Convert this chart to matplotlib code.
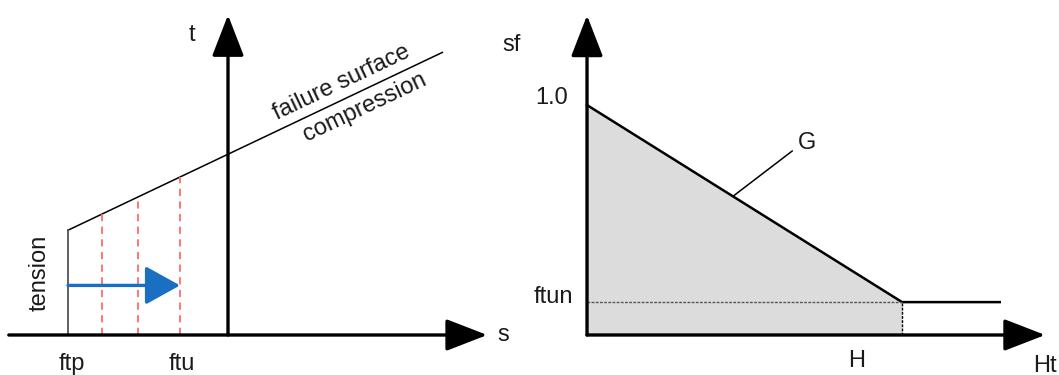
import matplotlib.pyplot as plt
import numpy as np

plt.rcParams['font.family'] = ['Liberation Sans', 'DejaVu Sans']

# left diagram: stress space (s, t)
s_ftp = -1.0                     # tension cutoff
s_ftu = -0.30                    # reduced tension cutoff
s_dashed = [-0.79, -0.56, -0.30] # successive cutoff positions
cohesion = 1.13
slope = 0.475
s_fail_end = 1.34
t_arrow = 0.31
s_axis = [-1.37, 1.62]
t_axis_top = 2.0

# right diagram: softening of tensile strength
sf_start = 1.0
H = 1.0
ftun = 0.143
ht_end = 1.31
ht_axis = 1.454
sf_axis_top = 1.39

W, Hpx = 1059, 375
fig = plt.figure(figsize=(W / 100, Hpx / 100), dpi=100)

axL = fig.add_axes([0, 0, 520 / W, 1])
axL.set_xlim(-1.425, 1.825)
axL.set_ylim(-0.25, 2.094)
axR = fig.add_axes([520 / W, 0, 539 / W, 1])
axR.set_xlim(-0.2127, 1.498)
axR.set_ylim(-0.174, 1.457)
for ax in (axL, axR):
    ax.axis('off')

txt = dict(fontsize=17, color='#1a1a1a')
axis_head = dict(arrowstyle='-|>,head_length=1.6,head_width=0.62', mutation_scale=16,
                 lw=2.4, color='black', shrinkA=0, shrinkB=0)


def tau(s):
    return cohesion + slope * np.asarray(s)


# ---- left panel ----
# failure surface and tension cutoff
s_line = np.array([s_ftp, s_fail_end])
axL.plot(s_line, tau(s_line), color='black', lw=1.1)
axL.plot([s_ftp, s_ftp], [0, tau(s_ftp)], color='#555555', lw=1.3)

for s in s_dashed:
    axL.plot([s, s], [0, tau(s)], color='#ff6b6b', lw=1.3, ls=(0, (4, 3)))

axL.annotate('', xy=(s_ftu, t_arrow), xytext=(s_ftp, t_arrow),
             arrowprops=dict(arrowstyle='-|>,head_length=1.8,head_width=1.0',
                             mutation_scale=12, lw=2.4, color='#1a6fc2',
                             shrinkA=0, shrinkB=0))

axL.annotate('', xy=(s_axis[1], 0), xytext=(s_axis[0], 0), arrowprops=axis_head)
axL.annotate('', xy=(0, t_axis_top), xytext=(0, 0), arrowprops=axis_head)

axL.text(-0.225, 1.875, 't', ha='center', va='center', **txt)
axL.text(1.72, 0.0, 's', ha='center', va='center', **txt)
axL.text(-0.975, -0.18, 'ftp', ha='center', va='center', **txt)
axL.text(s_ftu + 0.01, -0.18, 'ftu', ha='center', va='center', **txt)
axL.text(-1.175, 0.39, 'tension', ha='center', va='center', rotation=90, **txt)
ang = np.degrees(np.arctan(slope))
axL.text(0.71, 1.575, 'failure surface', ha='center', va='center',
         rotation=ang, rotation_mode='anchor', **txt)
axL.text(0.856, 1.42, 'compression', ha='center', va='center',
         rotation=ang, rotation_mode='anchor', **txt)

# ---- right panel ----
ht = [0, H, ht_end]
sf = [sf_start, ftun, ftun]
axR.fill_between(ht[:2], sf[:2], 0, color='#dcdcdc', lw=0)
axR.plot(ht, sf, color='black', lw=1.8)
axR.plot([0, H], [ftun, ftun], color='#555555', lw=1.0, ls=(0, (2, 1)))
axR.plot([H, H], [0, ftun], color='black', lw=1.0, ls=(0, (2, 1)))
axR.plot([0.463, 0.651], [0.603, 0.80], color='black', lw=1.1)

axR.annotate('', xy=(ht_axis, 0), xytext=(0, 0), arrowprops=axis_head)
axR.annotate('', xy=(0, sf_axis_top), xytext=(0, 0), arrowprops=axis_head)

axR.text(-0.238, 1.26, 'sf', ha='center', va='center', **txt)
axR.text(-0.111, 1.03, '1.0', ha='center', va='center', **txt)
axR.text(-0.108, 0.165, 'ftun', ha='center', va='center', **txt)
axR.text(0.698, 0.835, 'G', ha='center', va='center', **txt)
axR.text(0.857, -0.115, 'H', ha='center', va='center', **txt)
axR.text(1.454, -0.135, 'Ht', ha='center', va='center', clip_on=False, **txt)

fig.savefig('out.png', dpi=100)
